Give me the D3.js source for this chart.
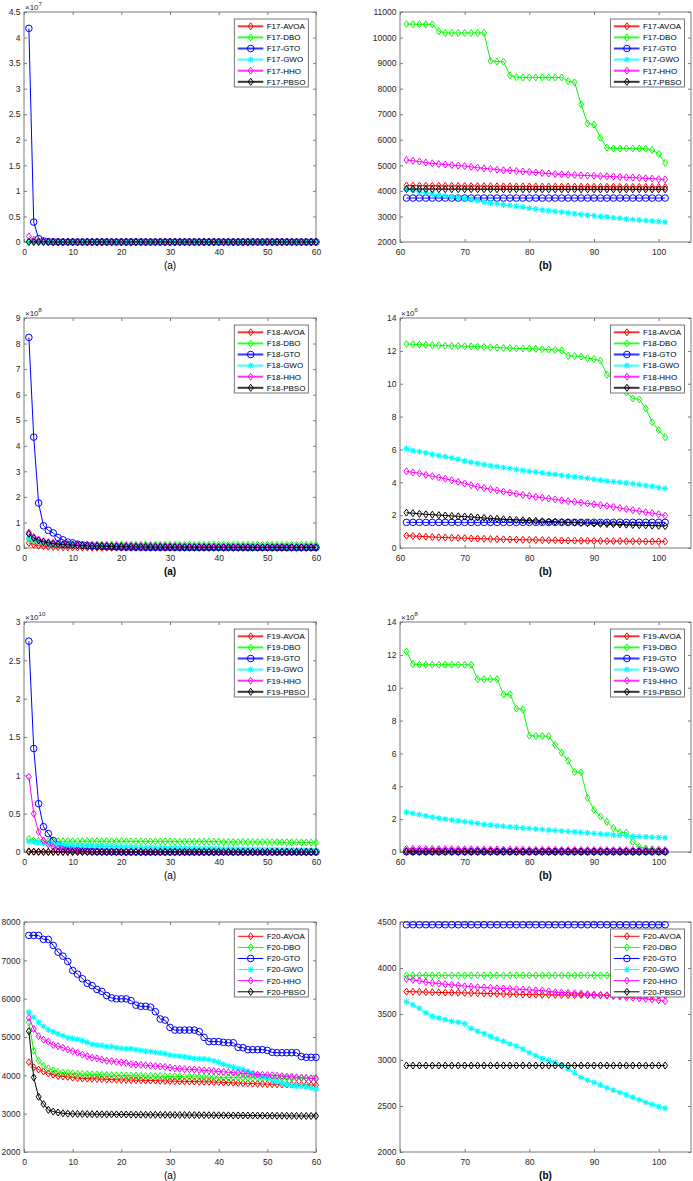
<!DOCTYPE html>
<html><head><meta charset="utf-8">
<script src="https://cdn.jsdelivr.net/npm/d3@7"></script>
<style>body{margin:0;background:#fff} svg{display:block} text{font-family:"Liberation Sans",Arial,sans-serif}</style>
</head><body><svg id="c" width="693" height="1181"></svg>
<script>
const algorithms = ["AVOA","DBO","GTO","GWO","HHO","PBSO"];
const colors = ["#ff0000","#00ff00","#0000ff","#00ffff","#ff00ff","#000000"];
const markerKinds = ["diamond","diamond","circle","asterisk","diamond","diamond"];

// ---- F17 (a): iterations 1..60, values x1e7
const F17a_AVOA=[0.004,0.002,0.001,0.0008,0.0006,0.0005,0.0005,0.0005,0.0004,0.0004,0.0004,0.0004,0.0004,0.0004,0.0004,0.0004,0.0004,0.0004,0.0004,0.0004,0.0004,0.0004,0.0004,0.0004,0.0004,0.0004,0.0004,0.0004,0.0004,0.0004,0.0004,0.0004,0.0004,0.0004,0.0004,0.0004,0.0004,0.0004,0.0004,0.0004,0.0004,0.0004,0.0004,0.0004,0.0004,0.0004,0.0004,0.0004,0.0004,0.0004,0.0004,0.0004,0.0004,0.0004,0.0004,0.0004,0.0004,0.0004,0.0004,0.0004];
const F17a_DBO=[0.006,0.004,0.003,0.002,0.0015,0.0012,0.0011,0.0011,0.0011,0.0011,0.0011,0.0011,0.0011,0.0011,0.0011,0.0011,0.0011,0.0011,0.0011,0.0011,0.0011,0.0011,0.0011,0.0011,0.0011,0.0011,0.0011,0.0011,0.0011,0.0011,0.0011,0.0011,0.0011,0.0011,0.0011,0.0011,0.0011,0.0011,0.0011,0.0011,0.0011,0.0011,0.0011,0.0011,0.0011,0.0011,0.0011,0.0011,0.0011,0.0011,0.0011,0.0011,0.0011,0.0011,0.0011,0.0011,0.0011,0.0011,0.0011,0.0011];
const F17a_GTO=[4.18,0.39,0.065,0.02,0.008,0.004,0.002,0.001,0.0008,0.0006,0.0004,0.0004,0.0004,0.0004,0.0004,0.0004,0.0004,0.0004,0.0004,0.0004,0.0004,0.0004,0.0004,0.0004,0.0004,0.0004,0.0004,0.0004,0.0004,0.0004,0.0004,0.0004,0.0004,0.0004,0.0004,0.0004,0.0004,0.0004,0.0004,0.0004,0.0004,0.0004,0.0004,0.0004,0.0004,0.0004,0.0004,0.0004,0.0004,0.0004,0.0004,0.0004,0.0004,0.0004,0.0004,0.0004,0.0004,0.0004,0.0004,0.0004];
const F17a_GWO=[0.005,0.003,0.002,0.0012,0.0008,0.0006,0.0005,0.0005,0.0004,0.0004,0.0004,0.0004,0.0004,0.0004,0.0004,0.0004,0.0004,0.0004,0.0004,0.0004,0.0004,0.0004,0.0004,0.0004,0.0004,0.0004,0.0004,0.0004,0.0004,0.0004,0.0004,0.0004,0.0004,0.0004,0.0004,0.0004,0.0004,0.0004,0.0004,0.0004,0.0004,0.0004,0.0004,0.0004,0.0004,0.0004,0.0004,0.0004,0.0004,0.0004,0.0004,0.0004,0.0004,0.0004,0.0004,0.0004,0.0004,0.0004,0.0004,0.0004];
const F17a_HHO=[0.11,0.045,0.02,0.008,0.004,0.002,0.001,0.0008,0.0006,0.0006,0.0005,0.0005,0.0005,0.0005,0.0005,0.0005,0.0005,0.0005,0.0005,0.0005,0.0005,0.0005,0.0005,0.0005,0.0005,0.0005,0.0005,0.0005,0.0005,0.0005,0.0005,0.0005,0.0005,0.0005,0.0005,0.0005,0.0005,0.0005,0.0005,0.0005,0.0005,0.0005,0.0005,0.0005,0.0005,0.0005,0.0005,0.0005,0.0005,0.0005,0.0005,0.0005,0.0005,0.0005,0.0005,0.0005,0.0005,0.0005,0.0005,0.0005];
const F17a_PBSO=[0.004,0.002,0.001,0.0006,0.0004,0.0004,0.0004,0.0004,0.0004,0.0004,0.0004,0.0004,0.0004,0.0004,0.0004,0.0004,0.0004,0.0004,0.0004,0.0004,0.0004,0.0004,0.0004,0.0004,0.0004,0.0004,0.0004,0.0004,0.0004,0.0004,0.0004,0.0004,0.0004,0.0004,0.0004,0.0004,0.0004,0.0004,0.0004,0.0004,0.0004,0.0004,0.0004,0.0004,0.0004,0.0004,0.0004,0.0004,0.0004,0.0004,0.0004,0.0004,0.0004,0.0004,0.0004,0.0004,0.0004,0.0004,0.0004,0.0004];

// ---- F17 (b): iterations 61..101
const F17b_AVOA=[4210,4208,4205,4203,4200,4198,4196,4194,4192,4190,4188,4186,4184,4182,4180,4178,4176,4175,4174,4173,4172,4171,4170,4169,4168,4167,4166,4165,4164,4163,4162,4161,4160,4159,4158,4157,4156,4155,4154,4153,4152];
const F17b_DBO=[10530,10520,10520,10520,10520,10240,10180,10180,10180,10180,10180,10180,10180,9090,9060,9060,8520,8450,8440,8440,8440,8440,8440,8440,8440,8290,8250,7390,6640,6590,6080,5690,5660,5660,5660,5660,5660,5650,5600,5450,5100];
const F17b_GTO=[3720,3720,3720,3720,3720,3720,3720,3720,3720,3720,3720,3720,3720,3720,3720,3720,3720,3720,3720,3720,3720,3720,3720,3720,3720,3720,3720,3720,3720,3720,3720,3720,3720,3720,3720,3720,3720,3720,3720,3720,3720];
const F17b_GWO=[4080,4030,3970,3920,3880,3840,3800,3770,3740,3710,3660,3610,3570,3530,3500,3460,3430,3400,3370,3320,3290,3260,3230,3200,3170,3140,3110,3080,3050,3030,3000,2980,2950,2930,2900,2880,2860,2840,2820,2800,2780];
const F17b_HHO=[5210,5180,5150,5110,5080,5050,5030,5010,4990,4970,4940,4910,4880,4860,4830,4810,4800,4780,4760,4740,4720,4700,4680,4660,4650,4630,4620,4610,4600,4590,4580,4570,4560,4540,4530,4520,4510,4490,4480,4460,4450];
const F17b_PBSO=[4070,4070,4070,4068,4068,4067,4067,4066,4066,4065,4065,4064,4064,4063,4063,4062,4062,4062,4061,4061,4061,4060,4060,4060,4060,4060,4060,4060,4060,4060,4060,4060,4060,4060,4060,4060,4060,4060,4060,4060,4060];

// ---- F18 (a): x1e8
const F18a_AVOA=[0.2,0.13,0.09,0.07,0.05,0.04,0.035,0.03,0.025,0.02,0.018,0.016,0.015,0.014,0.013,0.012,0.012,0.011,0.011,0.01,0.01,0.01,0.01,0.01,0.01,0.01,0.01,0.01,0.01,0.01,0.009,0.009,0.009,0.009,0.009,0.009,0.009,0.009,0.009,0.009,0.009,0.009,0.009,0.009,0.009,0.009,0.009,0.009,0.009,0.009,0.008,0.008,0.008,0.008,0.008,0.008,0.008,0.008,0.008,0.008];
const F18a_DBO=[0.35,0.28,0.22,0.19,0.17,0.16,0.15,0.145,0.14,0.14,0.135,0.135,0.135,0.135,0.135,0.135,0.135,0.135,0.135,0.135,0.13,0.13,0.13,0.13,0.13,0.13,0.13,0.13,0.13,0.13,0.13,0.13,0.13,0.13,0.13,0.13,0.13,0.13,0.13,0.13,0.128,0.128,0.128,0.128,0.128,0.128,0.128,0.128,0.128,0.128,0.125,0.125,0.125,0.125,0.125,0.125,0.125,0.125,0.125,0.125];
const F18a_GTO=[8.24,4.34,1.76,0.87,0.69,0.59,0.41,0.32,0.23,0.2,0.15,0.12,0.1,0.08,0.07,0.06,0.05,0.045,0.04,0.035,0.03,0.03,0.028,0.026,0.025,0.024,0.023,0.022,0.021,0.02,0.02,0.02,0.02,0.02,0.02,0.02,0.02,0.02,0.02,0.02,0.018,0.018,0.018,0.018,0.018,0.018,0.018,0.018,0.018,0.018,0.016,0.016,0.016,0.016,0.016,0.016,0.016,0.016,0.016,0.016];
const F18a_GWO=[0.39,0.3,0.25,0.21,0.18,0.16,0.15,0.14,0.13,0.12,0.115,0.11,0.105,0.1,0.098,0.096,0.094,0.092,0.09,0.088,0.086,0.085,0.084,0.083,0.082,0.081,0.08,0.079,0.078,0.077,0.076,0.075,0.074,0.073,0.072,0.071,0.07,0.069,0.068,0.067,0.066,0.066,0.065,0.065,0.064,0.064,0.063,0.063,0.062,0.062,0.062,0.061,0.061,0.061,0.061,0.061,0.061,0.061,0.061,0.061];
const F18a_HHO=[0.61,0.43,0.33,0.27,0.23,0.2,0.18,0.16,0.15,0.14,0.13,0.125,0.12,0.115,0.11,0.105,0.1,0.097,0.094,0.092,0.09,0.088,0.086,0.084,0.082,0.08,0.078,0.076,0.074,0.072,0.07,0.068,0.066,0.064,0.062,0.06,0.059,0.058,0.057,0.056,0.055,0.054,0.053,0.052,0.051,0.05,0.05,0.049,0.049,0.048,0.048,0.048,0.048,0.048,0.048,0.048,0.048,0.048,0.048,0.048];
const F18a_PBSO=[0.55,0.39,0.3,0.24,0.2,0.17,0.15,0.13,0.12,0.11,0.1,0.09,0.085,0.08,0.075,0.07,0.065,0.06,0.055,0.05,0.048,0.046,0.044,0.042,0.04,0.038,0.036,0.034,0.032,0.031,0.03,0.029,0.028,0.027,0.026,0.026,0.025,0.025,0.024,0.024,0.024,0.023,0.023,0.023,0.023,0.022,0.022,0.022,0.022,0.022,0.022,0.022,0.022,0.022,0.022,0.022,0.022,0.022,0.022,0.022];

// ---- F18 (b): x1e6
const F18b_AVOA=[0.75,0.73,0.71,0.69,0.67,0.65,0.64,0.62,0.61,0.6,0.58,0.57,0.56,0.55,0.54,0.53,0.52,0.51,0.5,0.5,0.49,0.48,0.47,0.47,0.46,0.45,0.45,0.44,0.44,0.43,0.43,0.42,0.42,0.42,0.41,0.41,0.41,0.4,0.4,0.4,0.4];
const F18b_DBO=[12.42,12.4,12.38,12.36,12.35,12.34,12.32,12.3,12.29,12.28,12.27,12.25,12.24,12.22,12.2,12.18,12.17,12.15,12.14,12.13,12.12,12.1,12.08,12.06,12.02,11.7,11.68,11.65,11.55,11.5,11.4,10.55,10.3,9.9,9.47,9.1,9.05,8.5,7.65,7.18,6.74];
const F18b_GTO=[1.56,1.56,1.56,1.56,1.56,1.56,1.56,1.56,1.56,1.56,1.56,1.56,1.56,1.56,1.56,1.56,1.56,1.56,1.56,1.56,1.56,1.56,1.56,1.56,1.56,1.56,1.56,1.56,1.56,1.56,1.56,1.56,1.56,1.56,1.56,1.56,1.56,1.56,1.56,1.56,1.56];
const F18b_GWO=[6.05,5.93,5.87,5.8,5.7,5.62,5.56,5.48,5.4,5.3,5.22,5.15,5.08,5.01,4.96,4.9,4.84,4.78,4.72,4.67,4.62,4.57,4.52,4.48,4.43,4.38,4.34,4.29,4.24,4.18,4.13,4.08,4.04,4.0,3.95,3.91,3.86,3.8,3.75,3.68,3.62];
const F18b_HHO=[4.67,4.6,4.55,4.45,4.37,4.3,4.22,4.12,4.03,3.93,3.82,3.72,3.65,3.58,3.5,3.43,3.37,3.3,3.23,3.17,3.11,3.06,3.01,2.96,2.9,2.85,2.81,2.76,2.71,2.66,2.61,2.56,2.5,2.44,2.37,2.3,2.24,2.18,2.12,2.05,1.97];
const F18b_PBSO=[2.15,2.12,2.08,2.05,2.03,2.0,1.98,1.95,1.93,1.91,1.89,1.86,1.83,1.8,1.78,1.75,1.73,1.71,1.69,1.67,1.65,1.63,1.61,1.6,1.58,1.56,1.55,1.53,1.51,1.49,1.47,1.46,1.45,1.43,1.42,1.4,1.39,1.38,1.36,1.35,1.33];

// ---- F19 (a): x1e10
const F19a_AVOA=[0.01,0.006,0.004,0.003,0.002,0.0015,0.001,0.001,0.0008,0.0008,0.0006,0.0006,0.0006,0.0006,0.0006,0.0006,0.0006,0.0006,0.0006,0.0006,0.0006,0.0006,0.0006,0.0006,0.0006,0.0006,0.0006,0.0006,0.0006,0.0006,0.0005,0.0005,0.0005,0.0005,0.0005,0.0005,0.0005,0.0005,0.0005,0.0005,0.0005,0.0005,0.0005,0.0005,0.0005,0.0005,0.0005,0.0005,0.0005,0.0005,0.0005,0.0005,0.0005,0.0005,0.0005,0.0005,0.0005,0.0005,0.0005,0.0005];
const F19a_DBO=[0.17,0.15,0.145,0.142,0.14,0.14,0.14,0.14,0.14,0.14,0.14,0.14,0.14,0.14,0.14,0.14,0.14,0.14,0.14,0.14,0.138,0.138,0.138,0.138,0.138,0.138,0.138,0.138,0.138,0.138,0.135,0.135,0.135,0.135,0.135,0.135,0.135,0.135,0.135,0.135,0.13,0.13,0.13,0.13,0.13,0.13,0.13,0.13,0.13,0.13,0.128,0.128,0.127,0.127,0.126,0.126,0.125,0.124,0.123,0.122];
const F19a_GTO=[2.75,1.35,0.63,0.33,0.24,0.15,0.09,0.065,0.045,0.03,0.02,0.015,0.01,0.008,0.006,0.005,0.004,0.003,0.002,0.002,0.001,0.001,0.001,0.001,0.001,0.001,0.001,0.001,0.001,0.001,0.001,0.001,0.001,0.001,0.001,0.001,0.001,0.001,0.001,0.001,0.001,0.001,0.001,0.001,0.001,0.001,0.001,0.001,0.001,0.001,0.001,0.001,0.001,0.001,0.001,0.001,0.001,0.001,0.001,0.001];
const F19a_GWO=[0.135,0.13,0.12,0.115,0.11,0.105,0.1,0.095,0.09,0.088,0.085,0.082,0.08,0.078,0.076,0.074,0.072,0.07,0.068,0.066,0.064,0.062,0.06,0.058,0.057,0.056,0.055,0.054,0.053,0.052,0.051,0.05,0.049,0.048,0.047,0.046,0.045,0.044,0.043,0.042,0.041,0.04,0.039,0.038,0.037,0.036,0.035,0.034,0.033,0.032,0.031,0.03,0.029,0.029,0.028,0.027,0.026,0.026,0.025,0.025];
const F19a_HHO=[0.98,0.5,0.26,0.15,0.1,0.065,0.045,0.035,0.025,0.02,0.015,0.012,0.01,0.008,0.007,0.006,0.005,0.004,0.004,0.003,0.003,0.003,0.003,0.003,0.003,0.003,0.003,0.003,0.003,0.003,0.002,0.002,0.002,0.002,0.002,0.002,0.002,0.002,0.002,0.002,0.002,0.002,0.002,0.002,0.002,0.002,0.002,0.002,0.002,0.002,0.002,0.002,0.002,0.002,0.002,0.002,0.002,0.002,0.002,0.002];
const F19a_PBSO=[0.003,0.002,0.002,0.001,0.001,0.001,0.001,0.001,0.001,0.001,0.001,0.001,0.001,0.001,0.001,0.001,0.001,0.001,0.001,0.001,0.001,0.001,0.001,0.001,0.001,0.001,0.001,0.001,0.001,0.001,0.001,0.001,0.001,0.001,0.001,0.001,0.001,0.001,0.001,0.001,0.001,0.001,0.001,0.001,0.001,0.001,0.001,0.001,0.001,0.001,0.001,0.001,0.001,0.001,0.001,0.001,0.001,0.001,0.001,0.001];

// ---- F19 (b): x1e8
const F19b_AVOA=[0.08,0.08,0.08,0.07,0.07,0.07,0.07,0.07,0.06,0.06,0.06,0.06,0.06,0.06,0.06,0.06,0.05,0.05,0.05,0.05,0.05,0.05,0.05,0.05,0.05,0.05,0.05,0.05,0.05,0.05,0.04,0.04,0.04,0.04,0.04,0.04,0.04,0.04,0.04,0.04,0.04];
const F19b_DBO=[12.21,11.44,11.4,11.4,11.4,11.4,11.4,11.4,11.4,11.4,11.4,10.52,10.52,10.52,10.52,9.6,9.6,8.73,8.68,7.08,7.06,7.06,7.05,6.52,6.03,5.55,4.87,4.85,3.3,2.57,2.16,1.83,1.46,1.2,1.18,0.62,0.3,0.22,0.18,0.15,0.05];
const F19b_GTO=[0.02,0.02,0.02,0.02,0.02,0.02,0.02,0.02,0.02,0.02,0.02,0.02,0.02,0.02,0.02,0.02,0.02,0.02,0.02,0.02,0.02,0.02,0.02,0.02,0.02,0.02,0.02,0.02,0.02,0.02,0.02,0.02,0.02,0.02,0.02,0.02,0.02,0.02,0.02,0.02,0.02];
const F19b_GWO=[2.42,2.35,2.28,2.2,2.12,2.06,2.0,1.95,1.9,1.85,1.8,1.74,1.68,1.64,1.6,1.56,1.53,1.5,1.46,1.43,1.4,1.37,1.34,1.31,1.28,1.25,1.22,1.19,1.16,1.13,1.1,1.07,1.04,1.01,0.99,0.96,0.94,0.92,0.9,0.88,0.86];
const F19b_HHO=[0.2,0.2,0.19,0.19,0.19,0.18,0.18,0.18,0.17,0.17,0.17,0.16,0.16,0.16,0.16,0.15,0.15,0.15,0.15,0.14,0.14,0.14,0.14,0.14,0.13,0.13,0.13,0.13,0.13,0.13,0.12,0.12,0.12,0.12,0.12,0.12,0.12,0.12,0.12,0.12,0.12];
const F19b_PBSO=[0.01,0.01,0.01,0.01,0.01,0.01,0.01,0.01,0.01,0.01,0.01,0.01,0.01,0.01,0.01,0.01,0.01,0.01,0.01,0.01,0.01,0.01,0.01,0.01,0.01,0.01,0.01,0.01,0.01,0.01,0.01,0.01,0.01,0.01,0.01,0.01,0.01,0.01,0.01,0.01,0.01];

// ---- F20 (a)
const F20a_AVOA=[4340,4210,4150,4100,4050,4020,3980,3970,3960,3940,3930,3920,3915,3910,3905,3900,3895,3890,3885,3880,3878,3875,3872,3870,3868,3865,3862,3858,3855,3850,3848,3845,3842,3840,3838,3835,3832,3830,3825,3820,3815,3810,3805,3800,3795,3790,3785,3780,3775,3770,3768,3765,3762,3760,3758,3755,3752,3750,3745,3742];
const F20a_DBO=[5380,4640,4380,4250,4180,4130,4090,4070,4060,4050,4040,4035,4030,4025,4020,4015,4010,4005,4000,3998,3995,3992,3990,3988,3985,3982,3980,3978,3975,3972,3970,3968,3965,3962,3960,3958,3955,3952,3950,3948,3946,3944,3942,3940,3938,3936,3935,3934,3933,3932,3931,3930,3929,3928,3927,3926,3925,3924,3923,3922];
const F20a_GTO=[7650,7650,7650,7546,7546,7390,7215,7110,6970,6735,6640,6520,6400,6340,6240,6190,6080,6020,5995,5995,5995,5950,5830,5800,5800,5780,5660,5470,5440,5250,5180,5180,5180,5180,5180,5140,4990,4880,4880,4880,4860,4850,4850,4730,4720,4670,4670,4670,4670,4650,4600,4590,4590,4590,4590,4590,4490,4470,4470,4470];
const F20a_GWO=[5650,5515,5385,5280,5190,5140,5080,5035,4980,4965,4940,4905,4860,4810,4790,4780,4750,4750,4720,4700,4690,4690,4670,4650,4630,4620,4600,4580,4560,4530,4510,4500,4480,4460,4440,4435,4430,4410,4380,4340,4290,4250,4210,4180,4150,4110,4050,4010,3960,3930,3880,3830,3800,3760,3740,3720,3710,3700,3670,3640];
const F20a_HHO=[5500,5210,5020,4930,4880,4790,4760,4720,4670,4630,4590,4540,4500,4460,4440,4410,4380,4370,4350,4340,4320,4290,4280,4270,4260,4250,4240,4230,4220,4200,4180,4170,4160,4155,4150,4140,4130,4120,4110,4100,4090,4080,4070,4060,4050,4040,4030,4020,4015,4010,4000,3990,3980,3970,3960,3950,3940,3930,3920,3910];
const F20a_PBSO=[5150,3945,3440,3250,3100,3055,3030,3010,3000,2995,2992,2990,2988,2986,2985,2984,2983,2982,2981,2980,2978,2976,2975,2974,2973,2972,2971,2970,2969,2968,2967,2966,2965,2964,2963,2962,2961,2960,2959,2958,2957,2956,2955,2954,2953,2952,2951,2950,2949,2948,2947,2946,2945,2944,2943,2942,2941,2940,2940,2940];

// ---- F20 (b)
const F20b_AVOA=[3744,3742,3740,3738,3736,3734,3733,3732,3731,3730,3728,3726,3724,3722,3720,3718,3716,3714,3712,3711,3710,3709,3708,3708,3707,3707,3706,3706,3705,3705,3704,3704,3703,3703,3702,3702,3701,3701,3700,3700,3700];
const F20b_DBO=[3920,3920,3920,3920,3920,3920,3920,3920,3920,3920,3920,3920,3920,3920,3920,3920,3920,3920,3920,3920,3920,3920,3920,3920,3920,3920,3920,3920,3920,3920,3920,3920,3920,3920,3920,3920,3920,3920,3920,3920,3920];
const F20b_GTO=[4470,4470,4470,4470,4470,4470,4470,4470,4470,4470,4470,4470,4470,4470,4470,4470,4470,4470,4470,4470,4470,4470,4470,4470,4470,4470,4470,4470,4470,4470,4470,4470,4470,4470,4470,4470,4470,4470,4470,4470,4470];
const F20b_GWO=[3635,3599,3562,3512,3475,3457,3439,3421,3410,3395,3344,3312,3286,3257,3228,3203,3174,3152,3119,3079,3047,3017,2996,2974,2942,2902,2858,2810,2781,2756,2727,2698,2672,2647,2621,2596,2567,2538,2516,2494,2476];
const F20b_HHO=[3882,3871,3860,3846,3838,3831,3824,3817,3810,3802,3797,3791,3788,3784,3780,3777,3774,3770,3766,3762,3758,3755,3746,3737,3733,3730,3726,3722,3716,3711,3706,3700,3695,3690,3682,3676,3670,3664,3657,3650,3639];
const F20b_PBSO=[2940,2940,2940,2940,2940,2940,2940,2940,2940,2940,2940,2940,2940,2940,2940,2940,2940,2940,2940,2940,2940,2940,2940,2940,2940,2940,2940,2940,2940,2940,2940,2940,2940,2940,2940,2940,2940,2940,2940,2940,2940];

// ticks
const xTicksA=[0,10,20,30,40,50,60];
const xTicksB=[60,70,80,90,100];
const yTicksF17a=[0,0.5,1,1.5,2,2.5,3,3.5,4,4.5];
const yTicksF17b=[2000,3000,4000,5000,6000,7000,8000,9000,10000,11000];
const yTicksF18a=[0,1,2,3,4,5,6,7,8,9];
const yTicksF18b=[0,2,4,6,8,10,12,14];
const yTicksF19a=[0,0.5,1,1.5,2,2.5,3];
const yTicksF19b=[0,2,4,6,8,10,12,14];
const yTicksF20a=[2000,3000,4000,5000,6000,7000,8000];
const yTicksF20b=[2000,2500,3000,3500,4000,4500];

const colX=[[24,316],[400,691]];
const rowTop=[12,318,622,922];
const plotH=230;

const panels=[
 {fn:"F17",col:0,row:0,xd:[0,60],xt:xTicksA,yd:[0,4.5],yt:yTicksF17a,exp:"7",label:"(a)",bold:false,start:1,lw:2,
  data:[F17a_AVOA,F17a_DBO,F17a_GTO,F17a_GWO,F17a_HHO,F17a_PBSO]},
 {fn:"F17",col:1,row:0,xd:[60,105],xt:xTicksB,yd:[2000,11000],yt:yTicksF17b,exp:null,label:"(b)",bold:true,start:61,lw:2,
  data:[F17b_AVOA,F17b_DBO,F17b_GTO,F17b_GWO,F17b_HHO,F17b_PBSO]},
 {fn:"F18",col:0,row:1,xd:[0,60],xt:xTicksA,yd:[0,9],yt:yTicksF18a,exp:"8",label:"(a)",bold:true,start:1,lw:2,
  data:[F18a_AVOA,F18a_DBO,F18a_GTO,F18a_GWO,F18a_HHO,F18a_PBSO]},
 {fn:"F18",col:1,row:1,xd:[60,105],xt:xTicksB,yd:[0,14],yt:yTicksF18b,exp:"6",label:"(b)",bold:true,start:61,lw:2,
  data:[F18b_AVOA,F18b_DBO,F18b_GTO,F18b_GWO,F18b_HHO,F18b_PBSO]},
 {fn:"F19",col:0,row:2,xd:[0,60],xt:xTicksA,yd:[0,3],yt:yTicksF19a,exp:"10",label:"(a)",bold:false,start:1,lw:2,
  data:[F19a_AVOA,F19a_DBO,F19a_GTO,F19a_GWO,F19a_HHO,F19a_PBSO]},
 {fn:"F19",col:1,row:2,xd:[60,105],xt:xTicksB,yd:[0,14],yt:yTicksF19b,exp:"8",label:"(b)",bold:true,start:61,lw:2,
  data:[F19b_AVOA,F19b_DBO,F19b_GTO,F19b_GWO,F19b_HHO,F19b_PBSO]},
 {fn:"F20",col:0,row:3,xd:[0,60],xt:xTicksA,yd:[2000,8000],yt:yTicksF20a,exp:null,label:"(a)",bold:false,start:1,lw:1,
  data:[F20a_AVOA,F20a_DBO,F20a_GTO,F20a_GWO,F20a_HHO,F20a_PBSO]},
 {fn:"F20",col:1,row:3,xd:[60,105],xt:xTicksB,yd:[2000,4500],yt:yTicksF20b,exp:null,label:"(b)",bold:true,start:61,lw:1,
  data:[F20b_AVOA,F20b_DBO,F20b_GTO,F20b_GWO,F20b_HHO,F20b_PBSO]}
];

const svg=d3.select("#c");
const axisColor="#262626", boxColor="#7a7a7a";

function drawMarker(g, kind, color){
  if(kind==="circle"){
    g.append("circle").attr("r",3.3).attr("fill","none").attr("stroke",color).attr("stroke-width",1);
  } else if(kind==="diamond"){
    g.append("path").attr("d","M0,-3.5L2.5,0L0,3.5L-2.5,0Z").attr("fill","none").attr("stroke",color).attr("stroke-width",1);
  } else {
    g.append("path").attr("d","M-3,0H3M0,-3V3M-2.2,-2.2L2.2,2.2M-2.2,2.2L2.2,-2.2").attr("fill","none").attr("stroke",color).attr("stroke-width",1.1);
  }
}

panels.forEach(p=>{
  const [x0,x1]=colX[p.col];
  const top=rowTop[p.row], bot=top+plotH;
  const x=d3.scaleLinear().domain(p.xd).range([x0,x1]);
  const y=d3.scaleLinear().domain(p.yd).range([bot,top]);
  const g=svg.append("g");

  // axes
  const fmt=d=>String(d);
  const ax=g.append("g").attr("transform",`translate(0,${bot})`)
    .call(d3.axisBottom(x).tickValues(p.xt).tickSizeInner(-3).tickSizeOuter(0).tickPadding(7).tickFormat(fmt));
  const ay=g.append("g").attr("transform",`translate(${x0},0)`)
    .call(d3.axisLeft(y).tickValues(p.yt).tickSizeInner(-3).tickSizeOuter(0).tickPadding(3.5).tickFormat(fmt));
  const at=g.append("g").attr("transform",`translate(0,${top})`)
    .call(d3.axisTop(x).tickValues(p.xt).tickSizeInner(-3).tickSizeOuter(0).tickFormat(""));
  const ar=g.append("g").attr("transform",`translate(${x1},0)`)
    .call(d3.axisRight(y).tickValues(p.yt).tickSizeInner(-3).tickSizeOuter(0).tickFormat(""));
  [ax,ay,at,ar].forEach(a=>{
    a.select(".domain").remove();
    a.selectAll(".tick line").attr("stroke",boxColor);
    a.selectAll("text").attr("fill",axisColor).style("font-size","8.5px").style("font-family",'"Liberation Sans",Arial,sans-serif');
  });
  g.append("rect").attr("x",x0).attr("y",top).attr("width",x1-x0).attr("height",bot-top)
    .attr("fill","none").attr("stroke",boxColor).attr("stroke-width",1);

  // exponent
  if(p.exp){
    const t=g.append("text").attr("x",x0+1).attr("y",top-2.5).attr("fill",axisColor).style("font-size","8px");
    t.append("tspan").text("\u00d710");
    t.append("tspan").attr("dy",-3.5).style("font-size","6px").text(p.exp);
  }

  // label
  g.append("text").attr("x",(x0+x1)/2).attr("y",bot+26.5).attr("text-anchor","middle")
    .attr("fill","#000").style("font-size","10px").style("font-weight",p.bold?"bold":"normal").text(p.label);

  // series
  p.data.forEach((vals,si)=>{
    const pts=vals.map((v,i)=>[p.start+i,v]);
    const line=d3.line().x(d=>x(d[0])).y(d=>y(d[1]));
    g.append("path").datum(pts).attr("d",line).attr("fill","none").attr("stroke",colors[si]).attr("stroke-width",1);
    const mg=g.append("g");
    pts.forEach(d=>{
      const m=mg.append("g").attr("transform",`translate(${x(d[0])},${y(d[1])})`);
      drawMarker(m,markerKinds[si],colors[si]);
    });
  });

  // legend
  const lx = p.col===0 ? 234.3 : 610.5;
  const ly = top+7;
  const lw=74, lh=68;
  const lg=g.append("g");
  lg.append("rect").attr("x",lx).attr("y",ly).attr("width",lw).attr("height",lh)
    .attr("fill","#fff").attr("stroke","#555").attr("stroke-width",0.8);
  algorithms.forEach((a,i)=>{
    const cy=ly+7.3+i*11.1;
    lg.append("line").attr("x1",lx+3.4).attr("x2",lx+29).attr("y1",cy).attr("y2",cy)
      .attr("stroke",colors[i]).attr("stroke-width",p.lw).attr("stroke-opacity",p.lw>1?0.8:1);
    const m=lg.append("g").attr("transform",`translate(${lx+16.4},${cy})`);
    drawMarker(m,markerKinds[i],colors[i]);
    lg.append("text").attr("x",lx+32.4).attr("y",cy).attr("dy","0.35em").attr("fill","#000")
      .style("font-size","8px").text(`${p.fn}-${a}`);
  });
});
</script>
</body></html>
